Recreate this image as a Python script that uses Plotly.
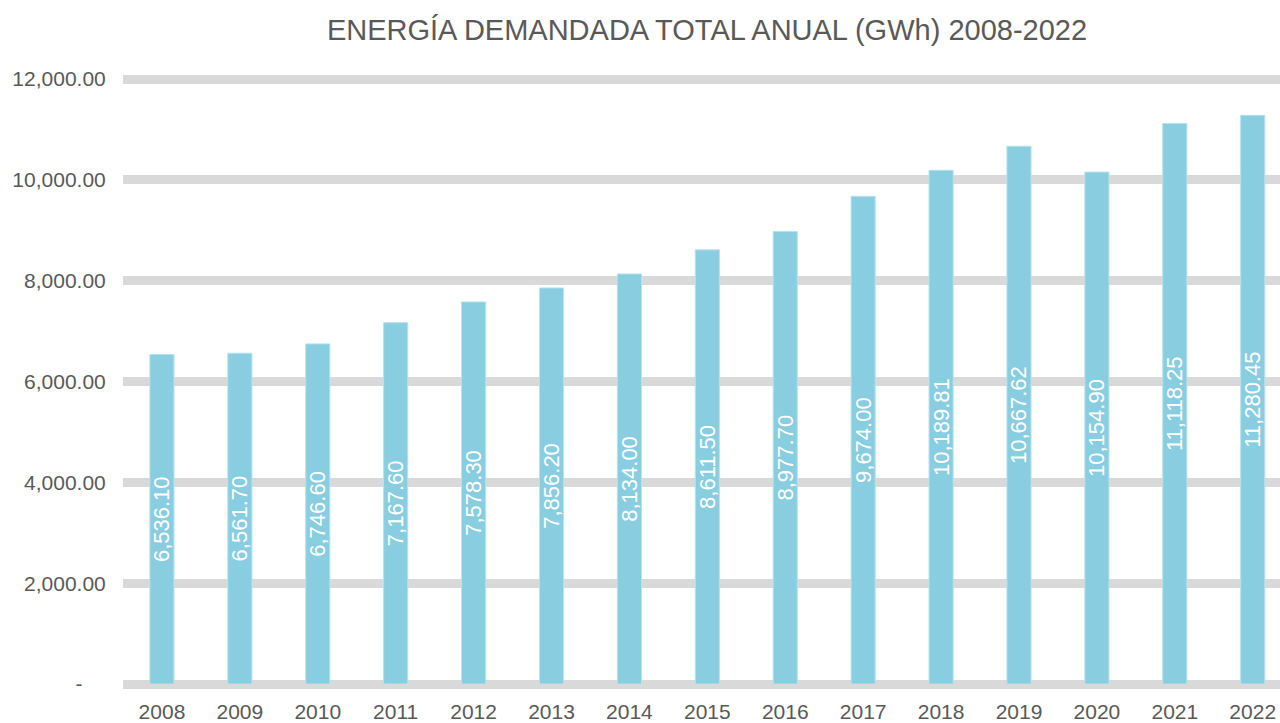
import plotly.graph_objects as go

years = ["2008", "2009", "2010", "2011", "2012", "2013", "2014", "2015",
         "2016", "2017", "2018", "2019", "2020", "2021", "2022"]
energia_gwh = [6536.10, 6561.70, 6746.60, 7167.60, 7578.30, 7856.20, 8134.00,
               8611.50, 8977.70, 9674.00, 10189.81, 10667.62, 10154.90,
               11118.25, 11280.45]
y_tick_vals = [0, 2000, 4000, 6000, 8000, 10000, 12000]
y_tick_text = ["-\u00a0\u00a0\u00a0\u00a0", "2,000.00", "4,000.00", "6,000.00",
               "8,000.00", "10,000.00", "12,000.00"]
title_text = "ENERGÍA DEMANDADA TOTAL ANUAL (GWh) 2008-2022"

FONT = "Liberation Sans, Arial, sans-serif"
GREY = "#595959"

fig = go.Figure(go.Bar(
    x=years,
    y=energia_gwh,
    marker=dict(color="#88CEE0", line=dict(color="#B8E2EC", width=1)),
    texttemplate="%{y:,.2f}",
    textposition="inside",
    insidetextanchor="middle",
    textangle=-90,
    constraintext="none",
    textfont=dict(family=FONT, size=22, color="white"),
    width=0.31,
))

fig.update_layout(
    width=1280, height=723,
    paper_bgcolor="white", plot_bgcolor="white",
    margin=dict(l=123, r=0, t=74, b=39),
    title=dict(text=title_text, x=707 / 1280, xref="container", xanchor="center",
               y=1 - 30 / 723, yanchor="middle",
               font=dict(family=FONT, size=29, color=GREY)),
    showlegend=False,
    font=dict(family=FONT, color=GREY),
)
fig.update_xaxes(
    type="category", range=[-0.5, 14.35], automargin=False,
    showgrid=False, showline=False, zeroline=False,
    ticks="outside", ticklen=9, tickcolor="rgba(0,0,0,0)",
    tickfont=dict(family=FONT, size=21, color=GREY),
)
fig.update_yaxes(
    range=[0, 12100], automargin=False,
    tickvals=y_tick_vals, ticktext=y_tick_text,
    showgrid=True, gridcolor="#D9D9D9", gridwidth=9,
    zeroline=True, zerolinecolor="#D9D9D9", zerolinewidth=9,
    showline=False,
    ticks="outside", ticklen=12, tickcolor="rgba(0,0,0,0)",
    tickfont=dict(family=FONT, size=21, color=GREY),
)

fig.write_html("out.html",
               config={"displayModeBar": False},
               post_script="document.body.style.margin='0';document.body.style.overflow='hidden';")
